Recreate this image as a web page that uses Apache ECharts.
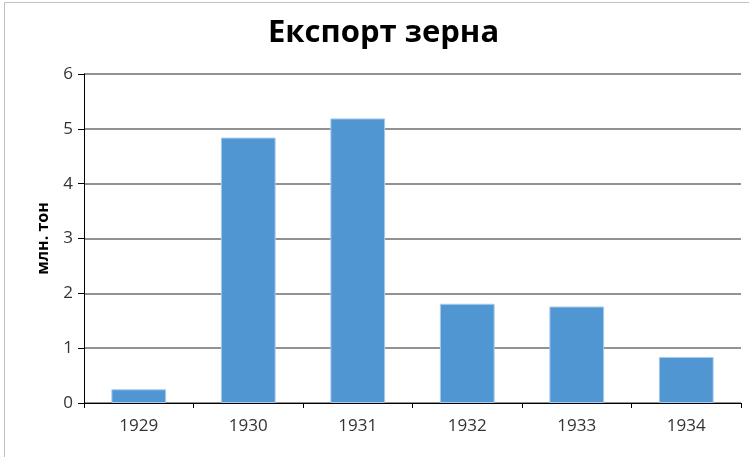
<!DOCTYPE html>
<html><head><meta charset="utf-8">
<script src="https://cdn.jsdelivr.net/npm/echarts@6/dist/echarts.min.js"></script>
<style>html,body{margin:0;padding:0;background:#fff}#c{width:749px;height:457px}</style>
</head><body><div id="c"></div>
<script>
const categories = ['1929','1930','1931','1932','1933','1934'];
const exportValues = [0.25, 4.84, 5.19, 1.81, 1.76, 0.84];
const yTicks = [0,1,2,3,4,5,6];
const titleText = 'Експорт зерна';
const yAxisName = 'млн. тон';

const chart = echarts.init(document.getElementById('c'), null, {renderer:'canvas'});
chart.setOption({
  animation:false,
  backgroundColor:'#fff',
  graphic:[{type:'rect',shape:{x:4.5,y:2.5,width:800,height:500},style:{fill:'none',stroke:'#c0c0c0',lineWidth:1},silent:true}],
  title:{text:titleText,left:263,top:13,textStyle:{fontFamily:'Open Sans',fontWeight:'bold',fontSize:31,color:'#000'}},
  grid:{left:84,right:8,top:74,bottom:54},
  xAxis:{type:'category',data:categories,
    axisLine:{lineStyle:{color:'#000',width:1}},
    axisTick:{show:true,length:5,lineStyle:{color:'#000'}},
    axisLabel:{fontFamily:'Open Sans',fontSize:17,color:'#333',margin:15}},
  yAxis:{type:'value',min:yTicks[0],max:yTicks[yTicks.length-1],interval:1,
    name:yAxisName,nameLocation:'middle',nameGap:33,nameRotate:90,
    nameTextStyle:{fontFamily:'Open Sans',fontWeight:'bold',fontSize:16,color:'#000'},
    axisLine:{show:true,lineStyle:{color:'#000'}},
    axisTick:{show:true,length:6,lineStyle:{color:'#000'}},
    axisLabel:{fontFamily:'Open Sans',fontSize:17,color:'#333',margin:11},
    splitLine:{lineStyle:{color:'#6e6e6e',width:1.5}}},
  series:[{type:'bar',data:exportValues,barWidth:'50%',
    itemStyle:{color:'#4f96d3',borderColor:'#a9cbeb',borderWidth:1}}]
});
</script></body></html>
